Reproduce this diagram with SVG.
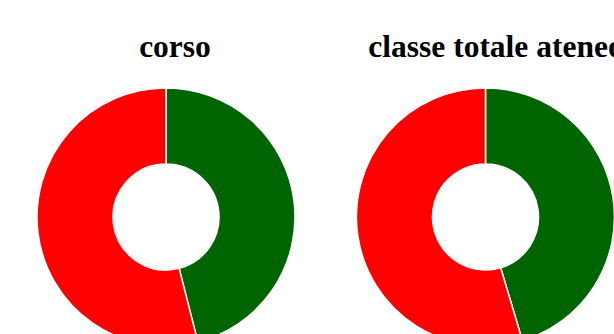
<svg xmlns="http://www.w3.org/2000/svg" width="614" height="334" viewBox="0 0 614 334">
<style>
.title{font-family:"Liberation Serif","Times New Roman",serif;font-weight:bold;font-size:31.5px;fill:#000;text-anchor:middle}
.pos{fill:#006400;stroke:#fff;stroke-width:1.5}
.neg{fill:#ff0000;stroke:#fff;stroke-width:1.5}
</style>
<rect width="614" height="334" fill="#fff"/>
<g id="chart-corso">
<text class="title" x="175" y="57">corso</text>
<path class="pos" d="M166,88 A129,129 0 0 1 197.86,342 L179.09,268.36 A53,53 0 0 0 166,164 Z"/>
<path class="neg" d="M197.86,342 A129,129 0 1 1 166,88 L166,164 A53,53 0 1 0 179.09,268.36 Z"/>
</g>
<g id="chart-classe">
<text class="title" x="496" y="57">classe totale ateneo</text>
<path class="pos" d="M485.5,88 A129,129 0 0 1 522.36,340.6 L500.64,267.79 A53,53 0 0 0 485.5,164 Z"/>
<path class="neg" d="M522.36,340.6 A129,129 0 1 1 485.5,88 L485.5,164 A53,53 0 1 0 500.64,267.79 Z"/>
</g>
</svg>
